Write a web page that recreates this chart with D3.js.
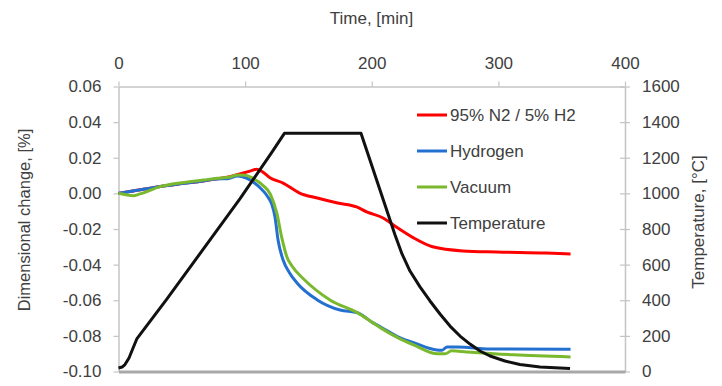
<!DOCTYPE html>
<html>
<head>
<meta charset="utf-8">
<script src="https://cdn.jsdelivr.net/npm/d3@7"></script>
<style>
  body { margin: 0; background: #fff; }
  svg { display: block; }
  text { font-family: "Liberation Sans", Arial, sans-serif; fill: #404040; }
</style>
</head>
<body>
<svg id="chart" width="722" height="386"></svg>
<script>
// axis ticks
const timeTicks = [0, 100, 200, 300, 400];
const dimTicks = [0.06, 0.04, 0.02, 0.00, -0.02, -0.04, -0.06, -0.08, -0.10];
const tempTicks = [0, 200, 400, 600, 800, 1000, 1200, 1400, 1600];

// series
const seriesNames = ["95% N2 / 5% H2", "Hydrogen", "Vacuum", "Temperature"];
const seriesColors = ["#ff0000", "#2470d0", "#7ab82e", "#111111"];

const n2Time = [0, 9, 33, 50, 67, 78, 87, 94, 100, 105, 109, 113, 119.6, 130, 143, 157, 173, 188, 196, 209, 220, 233, 248, 272, 299, 338, 357];
const n2Dim  = [0, 0.001, 0.0039, 0.0055, 0.007, 0.0082, 0.0092, 0.0106, 0.0117, 0.0128, 0.0135, 0.0124, 0.0088, 0.0058, 0.0002, -0.0026, -0.0054, -0.0076, -0.0104, -0.0138, -0.0192, -0.025, -0.030, -0.0323, -0.0329, -0.0335, -0.034];

const h2Time = [0, 9, 33, 50, 67, 78, 86, 94, 101, 106, 112, 118, 121, 123.6, 126, 130, 135, 141, 157, 175, 189, 201, 207, 222, 233, 251.5, 255.5, 259.5, 267.5, 293, 357];
const h2Dim  = [0, 0.001, 0.0039, 0.0055, 0.007, 0.0081, 0.0082, 0.0098, 0.0085, 0.0065, 0.003, -0.002, -0.006, -0.0132, -0.0262, -0.0374, -0.0445, -0.0503, -0.0598, -0.0655, -0.0671, -0.0727, -0.075, -0.081, -0.0838, -0.0879, -0.088, -0.0862, -0.0862, -0.0873, -0.0875];

const vacTime = [0, 5, 11.5, 17, 33, 50, 67, 78, 87, 94, 100, 106, 114, 120, 125, 129, 133, 137, 147, 167, 189, 201, 207, 222, 233, 252, 258, 263, 275, 312, 357];
const vacDim  = [0, -0.0006, -0.0013, -0.0003, 0.0038, 0.006, 0.0075, 0.0085, 0.009, 0.0103, 0.0102, 0.0085, 0.0045, -0.0005, -0.011, -0.025, -0.0357, -0.0408, -0.0486, -0.0598, -0.0671, -0.0727, -0.0755, -0.0815, -0.085, -0.0901, -0.0901, -0.0884, -0.089, -0.0906, -0.0918];

const tempTime = [0, 2.8, 5.1, 8.3, 11.5, 14.6, 38, 96, 122, 131, 191.5, 218.4, 223.9, 230.2, 238.1, 246, 253.9, 261.8, 269.7, 277.6, 285.5, 293.4, 305.2, 317, 332.9, 356.6];
const tempVal  = [20, 25, 39, 76, 132, 185, 405, 970, 1240, 1337, 1337, 766, 660, 564, 475, 396, 323, 255, 199, 154, 115, 87, 59, 39, 25, 17];

const svg = d3.select("#chart");

const x = d3.scaleLinear().domain([0, 400]).range([118.5, 625]);
const yL = d3.scaleLinear().domain([-0.10, 0.06]).range([371.5, 86.5]);
const yR = d3.scaleLinear().domain([0, 1600]).range([371.5, 86.5]);

const axisColor = "#c4c4c4";

// top axis (time)
const gTop = svg.append("g").attr("transform", "translate(0,86.5)")
  .call(d3.axisTop(x).tickValues(timeTicks).tickSize(5).tickPadding(12.5).tickSizeOuter(0));

// left axis
const gLeft = svg.append("g").attr("transform", "translate(118.5,0)")
  .call(d3.axisLeft(yL).tickValues(dimTicks).tickSize(5).tickPadding(12).tickSizeOuter(0)
    .tickFormat(d => d.toFixed(2)));

// right axis
const gRight = svg.append("g").attr("transform", "translate(625,0)")
  .call(d3.axisRight(yR).tickValues(tempTicks).tickSize(5).tickPadding(12).tickSizeOuter(0)
    .tickFormat(d => String(d)));
gRight.selectAll(".tick line").attr("x1", -5);

// bottom axis line
const gBottom = svg.append("g").attr("transform", "translate(0,371.5)")
  .call(d3.axisBottom(x).tickValues([]).tickSizeOuter(0));
gBottom.select(".domain").attr("stroke", "#a8a8a8").attr("stroke-width", 3);

[gTop, gLeft, gRight].forEach(g => {
  g.select(".domain").attr("stroke", axisColor).attr("stroke-width", 1.5);
  g.selectAll(".tick line").attr("stroke", axisColor).attr("stroke-width", 1.2);
  g.selectAll(".tick text").attr("font-size", 17).attr("fill", "#404040")
    .attr("font-family", "'Liberation Sans', Arial, sans-serif");
});

// titles
svg.append("text").attr("x", 371.5).attr("y", 24).attr("text-anchor", "middle")
  .attr("font-size", 17).text("Time, [min]");
svg.append("text").attr("transform", "translate(30,220) rotate(-90)").attr("text-anchor", "middle")
  .attr("font-size", 16.5).text("Dimensional change, [%]");
svg.append("text").attr("transform", "translate(704,222) rotate(-90)").attr("text-anchor", "middle")
  .attr("font-size", 17).text("Temperature, [°C]");

// lines
const dimLine = d3.line().x(d => x(d[0])).y(d => yL(d[1])).curve(d3.curveMonotoneX);
const tempLine = d3.line().x(d => x(d[0])).y(d => yR(d[1]));

const dimSeries = [
  d3.zip(n2Time, n2Dim),
  d3.zip(h2Time, h2Dim),
  d3.zip(vacTime, vacDim)
];

dimSeries.forEach((s, i) => {
  svg.append("path").attr("d", dimLine(s))
    .attr("fill", "none").attr("stroke", seriesColors[i])
    .attr("stroke-width", 3).attr("stroke-linejoin", "round");
});

svg.append("path").attr("d", tempLine(d3.zip(tempTime, tempVal)))
  .attr("fill", "none").attr("stroke", seriesColors[3])
  .attr("stroke-width", 3).attr("stroke-linejoin", "round");

// legend
const legend = svg.append("g").attr("transform", "translate(417,115)");
seriesNames.forEach((name, i) => {
  const row = legend.append("g").attr("transform", `translate(0,${i * 36})`);
  row.append("line").attr("x1", 0).attr("x2", 30).attr("y1", 0).attr("y2", 0)
    .attr("stroke", seriesColors[i]).attr("stroke-width", 3);
  row.append("text").attr("x", 33).attr("y", 6).attr("font-size", 17).text(name);
});
</script>
</body>
</html>
